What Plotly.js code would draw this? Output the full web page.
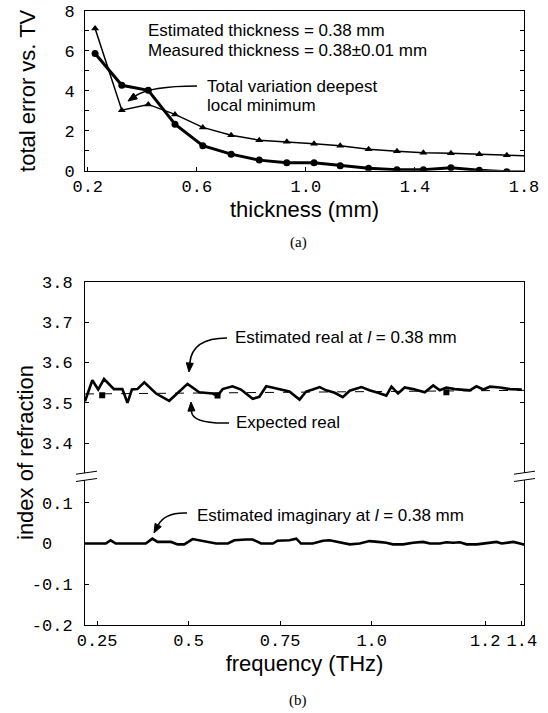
<!DOCTYPE html>
<html><head><meta charset="utf-8">
<script src="https://cdn.plot.ly/plotly-3.0.1.min.js"></script>
<style>html,body{margin:0;padding:0;background:#fff}#chart{width:548px;height:713px}</style>
</head><body><div id="chart"></div>
<script>
// ---------- (a) total error vs. TV ----------
const thickness = [0.227,0.325,0.422,0.520,0.622,0.726,0.829,0.930,1.030,1.126,1.230,1.334,1.431,1.532,1.636,1.737,1.84];
const tvError   = [7.12,3.03,3.32,2.82,2.17,1.78,1.53,1.45,1.35,1.25,1.08,0.98,0.90,0.87,0.82,0.77,0.73];
const totalError= [5.87,4.28,4.03,2.33,1.25,0.83,0.53,0.40,0.40,0.25,0.12,0.05,0.05,0.15,0.02,-0.05,-0.06];
const thickTickVals = [0.2,0.6,1.0,1.4,1.8];
const thickTickText = ['0.2','0.6','1.0','1.4','1.8'];
const errTickVals = [0,2,4,6,8];
const errTickText = ['0','2','4','6','8'];

// ---------- (b) index of refraction ----------
const freqReal = [0.217,0.237,0.253,0.269,0.296,0.319,0.333,0.345,0.360,0.379,0.411,0.447,0.497,0.529,0.565,0.579,0.593,0.620,0.643,0.675,0.693,0.712,0.734,0.775,0.803,0.821,0.839,0.858,0.876,0.899,0.921,0.940,0.972,0.994,1.017,1.040,1.054,1.072,1.090,1.113,1.145,1.168,1.186,1.204,1.227,1.250,1.268,1.286,1.305,1.323,1.350,1.378,1.410];
const realEst  = [3.504,3.556,3.533,3.559,3.534,3.534,3.500,3.533,3.534,3.551,3.523,3.505,3.547,3.526,3.523,3.518,3.534,3.541,3.533,3.510,3.515,3.541,3.537,3.528,3.508,3.528,3.533,3.539,3.531,3.525,3.514,3.530,3.539,3.531,3.525,3.518,3.540,3.523,3.538,3.534,3.526,3.543,3.531,3.538,3.534,3.533,3.531,3.541,3.533,3.540,3.538,3.534,3.533];
const freqExpLine = [0.217,1.416];
const realExpLine = [3.522,3.531];
const freqExpPts  = [0.264,0.579,1.204];
const realExpPts  = [3.519,3.518,3.526];
const freqImag = [0.217,0.274,0.287,0.301,0.383,0.401,0.415,0.452,0.470,0.488,0.511,0.538,0.575,0.607,0.625,0.657,0.675,0.698,0.730,0.743,0.775,0.794,0.807,0.839,0.867,0.885,0.912,0.940,0.967,0.994,1.017,1.040,1.058,1.086,1.113,1.140,1.159,1.186,1.204,1.223,1.241,1.259,1.287,1.305,1.323,1.341,1.355,1.373,1.387,1.405,1.417];
const imagEst  = [0,0,0.008,0,0,0.012,0.004,0.004,-0.002,-0.002,0.011,0.007,0,0,0.008,0.010,0.010,0,0,0.007,0.008,0.012,0,0,0.007,0.008,0.003,-0.002,0,0.006,0.004,0.002,-0.002,-0.002,0.002,0.004,0,0,0.003,0.002,0.003,-0.002,-0.002,0,0.002,0.004,0,0.003,0.004,0,-0.003];
const freqTickVals = [0.25,0.5,0.75,1.0,1.31,1.41];
const freqTickText = ['0.25','0.5','0.75','1.0','1.2','1.4'];
const realTickVals = [3.4,3.5,3.6,3.7,3.8];
const realTickText = ['3.4','3.5','3.6','3.7','3.8'];
const imagTickVals = [-0.2,-0.1,0,0.1];
const imagTickText = ['-0.2','-0.1','0\u00a0\u00a0','0.1'];

// ---------- geometry helpers (page pixels -> paper fractions) ----------
const W=548,H=713,ML=85,MR=24,MT=11,MB=88;
const PW=W-ML-MR, PH=H-MT-MB;
function px(x,y){return [(x-ML)/PW,(H-MB-y)/PH];}
function P(x,y){const p=px(x,y);return p[0].toFixed(5)+','+p[1].toFixed(5);}

const shapes=[], annotations=[];
function curvedArrow(s,c,tip){
  let dx=tip[0]-c[0], dy=tip[1]-c[1]; const n=Math.hypot(dx,dy); dx/=n; dy/=n;
  const len=9, hw=3.5;
  const bx=tip[0]-len*dx, by=tip[1]-len*dy;
  shapes.push({type:'path',xref:'paper',yref:'paper',line:{color:'#000',width:1.6},
    path:'M '+P(s[0],s[1])+' Q '+P(c[0],c[1])+' '+P(bx,by)});
  shapes.push({type:'path',xref:'paper',yref:'paper',line:{color:'#000',width:1},fillcolor:'#000',
    path:'M '+P(tip[0],tip[1])+' L '+P(bx-hw*dy,by+hw*dx)+' L '+P(bx+hw*dy,by-hw*dx)+' Z'});
}
function label(text,x,y,opts){
  const p=px(x,y);
  annotations.push(Object.assign({text:text,xref:'paper',yref:'paper',x:p[0],y:p[1],
    xanchor:'left',yanchor:'middle',showarrow:false,font:{size:17,color:'#000'}},opts||{}));
}
function breakMark(x,y){
  shapes.push({type:'path',xref:'paper',yref:'paper',line:{color:'#000',width:1},
    path:'M '+P(x-10,y+1.5)+' L '+P(x+11,y-1.5)});
}

curvedArrow([197,86],[150,86],[128,101]);
curvedArrow([227,338],[192,338],[189,372]);
curvedArrow([229,423],[192,424],[191,402]);
curvedArrow([187,513],[165,512],[154,533]);

label('Estimated thickness = 0.38 mm',146,30);
label('Measured thickness = 0.38±0.01 mm',146,50);
label('Total variation deepest',205,86);
label('local minimum',205,106);
label('Estimated real at <i>l</i> = 0.38 mm',233,337);
label('Expected real',234,422);
label('Estimated imaginary at <i>l</i> = 0.38 mm',195,515);
label('(a)',298,243,{xanchor:'center',font:{size:15,family:'Liberation Serif, serif',color:'#000'}});
label('(b)',298,700,{xanchor:'center',font:{size:15,family:'Liberation Serif, serif',color:'#000'}});
label('index of refraction',25,453,{xanchor:'center',textangle:-90,font:{size:22,color:'#000'}});

breakMark(86,472.7); breakMark(86,480);
breakMark(524,472.7); breakMark(524,480);

const tickFont={size:17,family:'Liberation Mono, monospace',color:'#000'};
const axBase={showgrid:false,zeroline:false,showline:true,linecolor:'#000',linewidth:1,
  ticks:'inside',ticklen:4,tickcolor:'#000',tickfont:tickFont};

const d1=px(0,170.7)[1], d2a=px(0,472.7)[1], d2b=px(0,281.7)[1], d3b=px(0,480)[1];

const traces=[
  {x:thickness,y:tvError,xaxis:'x',yaxis:'y',mode:'lines+markers',
   line:{color:'#000',width:1.5},marker:{symbol:'triangle-up',size:7,color:'#000'}},
  {x:thickness,y:totalError,xaxis:'x',yaxis:'y',mode:'lines+markers',
   line:{color:'#000',width:3},marker:{symbol:'circle',size:7,color:'#000'}},
  {x:freqExpLine,y:realExpLine,xaxis:'x3',yaxis:'y2',mode:'lines',
   line:{color:'#000',width:1,dash:'dash'}},
  {x:freqExpPts,y:realExpPts,xaxis:'x3',yaxis:'y2',mode:'markers',
   marker:{symbol:'square',size:6,color:'#000'}},
  {x:freqReal,y:realEst,xaxis:'x3',yaxis:'y2',mode:'lines',
   line:{color:'#000',width:2.6}},
  {x:freqImag,y:imagEst,xaxis:'x2',yaxis:'y3',mode:'lines',
   line:{color:'#000',width:2.6}}
];

const layout={
  width:W,height:H,margin:{l:ML,r:MR,t:MT,b:MB},
  paper_bgcolor:'#fff',plot_bgcolor:'#fff',showlegend:false,
  font:{family:'Liberation Sans, Arial, sans-serif',color:'#000',size:17},
  xaxis:Object.assign({},axBase,{domain:[0,1],anchor:'y',range:[0.19,1.8],
    tickvals:thickTickVals,ticktext:thickTickText,mirror:true,
    title:{text:'thickness (mm)',font:{size:22},standoff:2}}),
  yaxis:Object.assign({},axBase,{domain:[d1,1],anchor:'x',range:[0,8],
    tickvals:errTickVals,ticktext:errTickText,mirror:'ticks',ticklabelstandoff:6,
    minor:{dtick:1,tick0:0,ticks:'inside',ticklen:4,tickcolor:'#000'},
    title:{text:'total error vs. TV',font:{size:22},standoff:22}}),
  xaxis2:Object.assign({},axBase,{domain:[0,1],anchor:'y3',range:[0.217,1.416],
    tickvals:freqTickVals,ticktext:freqTickText,
    title:{text:'frequency (THz)',font:{size:22},standoff:2}}),
  xaxis3:Object.assign({},axBase,{domain:[0,1],anchor:'y2',side:'top',matches:'x2',
    range:[0.217,1.416],ticks:'',showticklabels:false}),
  yaxis2:Object.assign({},axBase,{domain:[d2a,d2b],anchor:'x3',range:[3.327,3.8],
    tickvals:realTickVals,ticktext:realTickText,mirror:'ticks',ticklabelstandoff:8}),
  yaxis3:Object.assign({},axBase,{domain:[0,d3b],anchor:'x2',range:[-0.2,0.156],
    tickvals:imagTickVals,ticktext:imagTickText,mirror:'ticks',ticklabelstandoff:8}),
  shapes:shapes,annotations:annotations
};
Plotly.newPlot('chart',traces,layout,{staticPlot:true,displayModeBar:false});
</script></body></html>
